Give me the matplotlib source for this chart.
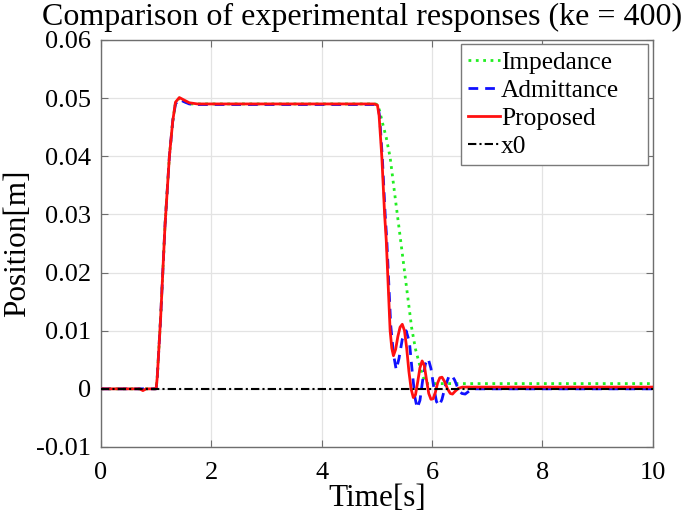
import matplotlib
matplotlib.use("Agg")
import matplotlib.pyplot as plt

plt.rcParams['font.family'] = ['Liberation Serif', 'DejaVu Serif']
plt.rcParams['mathtext.fontset'] = 'stix'

# ---- data ----
t_prop = [0, 0.70, 0.76, 0.82, 1.00, 1.02, 1.08, 1.16, 1.24, 1.30, 1.35, 1.42, 1.50, 1.60, 1.75,
          4.95, 5.01, 5.04, 5.09, 5.14, 5.17, 5.24, 5.27, 5.30,
          5.34, 5.38, 5.42, 5.46, 5.50, 5.54, 5.58, 5.62, 5.66,
          5.70, 5.74, 5.78, 5.82, 5.86, 5.90, 5.94, 5.98, 6.02,
          6.06, 6.10, 6.14, 6.18, 6.23, 6.28, 6.33, 6.37, 6.42, 6.48, 6.55, 10.0]
x_prop = [0, 0, -0.0003, 0, 0, 0.002, 0.012, 0.028, 0.040, 0.046, 0.0493, 0.0501, 0.0497, 0.0492, 0.0490,
          0.0490, 0.0488, 0.0470, 0.0398, 0.0300, 0.0255, 0.0100, 0.0070, 0.0057,
          0.0068, 0.0090, 0.0106, 0.0111, 0.0100, 0.0070, 0.0030, 0.0000, -0.0015,
          -0.0010, 0.0012, 0.0036, 0.0048, 0.0040, 0.0015, -0.0008, -0.0018, -0.0017,
          -0.0006, 0.0010, 0.0019, 0.0020, 0.0012, 0.0000, -0.0008, -0.0009, -0.0004, 0.0001, 0.0003, 0.0003]

t_adm = [0, 1.00, 1.02, 1.08, 1.16, 1.24, 1.30, 1.35, 1.42, 1.50, 1.60, 1.75,
         4.96, 5.02, 5.05, 5.10, 5.15, 5.18, 5.25, 5.30, 5.35,
         5.40, 5.46, 5.53, 5.59, 5.64, 5.69, 5.73,
         5.78, 5.83, 5.88, 5.93, 5.98, 6.03, 6.08, 6.13,
         6.18, 6.24, 6.30, 6.35, 6.41, 6.48, 6.54, 6.60, 6.67, 6.75, 10.0]
x_adm = [0, 0, 0.002, 0.012, 0.028, 0.040, 0.046, 0.0490, 0.0498, 0.0494, 0.0490, 0.0489,
         0.0489, 0.0486, 0.0468, 0.0395, 0.0300, 0.0255, 0.0110, 0.0060, 0.0033,
         0.0052, 0.0085, 0.0100, 0.0080, 0.0030, -0.0015, -0.0033,
         -0.0020, 0.0015, 0.0043, 0.0052, 0.0035, 0.0003, -0.0022, -0.0029,
         -0.0018, 0.0005, 0.0020, 0.0024, 0.0015, -0.0002, -0.0008, -0.0009, -0.0004, 0.0000, 0.0000]

t_imp = [0, 1.00, 1.02, 1.08, 1.16, 1.24, 1.30, 1.35, 1.42, 1.50, 1.60, 1.75,
         4.97, 5.01, 5.05, 5.10, 5.17, 5.24, 5.35, 5.44, 5.53, 5.63, 5.70, 5.77, 5.83, 5.89, 10.0]
x_imp = [0, 0, 0.002, 0.012, 0.028, 0.040, 0.046, 0.0491, 0.0500, 0.0495, 0.0490, 0.0490,
         0.0490, 0.0489, 0.0478, 0.0458, 0.0432, 0.0398, 0.0315, 0.0248, 0.0180, 0.0105, 0.0068, 0.0043, 0.0022, 0.0009, 0.0009]

t_x0 = [0, 10]
x_x0 = [0, 0]

labels = ['Impedance', 'Admittance', 'Proposed', 'x0']
xticks = [0, 2, 4, 6, 8, 10]
yticks = [-0.01, 0, 0.01, 0.02, 0.03, 0.04, 0.05, 0.06]
yticklabels = ['-0.01', '0', '0.01', '0.02', '0.03', '0.04', '0.05', '0.06']

fig = plt.figure(figsize=(6.85, 5.14), dpi=100)
ax = fig.add_axes([0.1474, 0.1304, 0.8056, 0.7918])

ax.plot(t_imp, x_imp, color='#22ee22', linestyle=':', linewidth=2.0, label=labels[0], zorder=3)
ax.plot(t_adm, x_adm, color='#1010ff', linestyle=(0, (3.5, 2.5)), linewidth=2.0, label=labels[1], zorder=4)
ax.plot(t_prop, x_prop, color='#ff1010', linestyle='-', linewidth=2.0, label=labels[2], zorder=5)
ax.plot(t_x0, x_x0, color='black', linestyle=(0, (4, 1.5, 1, 1.5)), linewidth=1.5, label=labels[3], zorder=6)

ax.set_xlim(0, 10)
ax.set_ylim(-0.01, 0.06)
ax.set_xticks(xticks)
ax.set_xticklabels([str(v) for v in xticks])
ax.set_yticks(yticks)
ax.set_yticklabels(yticklabels)
ax.grid(True, color='#e3e3e3', linewidth=0.9)
ax.set_axisbelow(True)
for s in ax.spines.values():
    s.set_color('#6e6e6e')
    s.set_linewidth(1.0)
ax.tick_params(direction='in', top=True, right=True, length=5, color='#6e6e6e',
               labelsize=19, labelcolor='black')
ax.tick_params(axis='x', pad=11)
ax.tick_params(axis='y', pad=7)

fig.text(0.528, 0.951, 'Comparison of experimental responses (ke = 400)',
         fontsize=23, ha='center', va='baseline')
ax.set_xlabel('Time[s]', fontsize=22.5, labelpad=0)
ax.set_ylabel('Position[m]', fontsize=22.5, labelpad=3)

leg = ax.legend(loc='upper left', bbox_to_anchor=(0.6524, 0.7027, 0.3385, 0.2875),
                mode='expand', fontsize=18.3, frameon=True, fancybox=False,
                edgecolor='#7a7a7a', framealpha=1.0, handlelength=1.25,
                handletextpad=0.05, labelspacing=0.2, borderpad=0.28,
                borderaxespad=0.0)
leg.get_frame().set_linewidth(1.0)

fig.savefig('out.png', dpi=100)
